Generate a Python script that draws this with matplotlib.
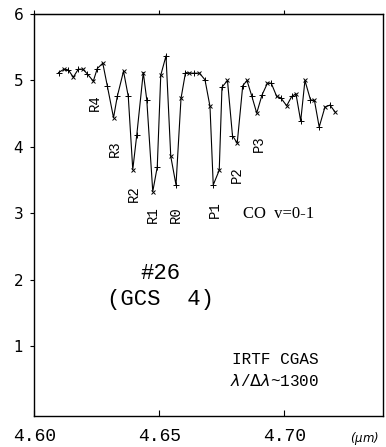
import numpy as np
import matplotlib.pyplot as plt

# 波長 (um) とフラックス
wl = [4.6097, 4.6119, 4.6136, 4.6156, 4.6176, 4.6194, 4.6212, 4.6236,
      4.6252, 4.6274, 4.6292, 4.6317, 4.6332, 4.6357, 4.6376, 4.6394,
      4.6410, 4.6436, 4.6450, 4.6474, 4.6492, 4.6506, 4.6527, 4.6546,
      4.6567, 4.6587, 4.6605, 4.6621, 4.6639, 4.6661, 4.6683, 4.6703,
      4.6716, 4.6740, 4.6751, 4.6773, 4.6793, 4.6812, 4.6834, 4.6851,
      4.6870, 4.6890, 4.6911, 4.6933, 4.6948, 4.6970, 4.6986, 4.7010,
      4.7030, 4.7047, 4.7066, 4.7083, 4.7105, 4.7121, 4.7140, 4.7163,
      4.7183, 4.7203]
flux = [5.12, 5.17, 5.16, 5.05, 5.17, 5.17, 5.10, 4.99,
        5.18, 5.26, 4.92, 4.44, 4.76, 5.14, 4.76, 3.66,
        4.18, 5.12, 4.71, 3.33, 3.70, 5.08, 5.37, 3.86,
        3.43, 4.73, 5.12, 5.11, 5.11, 5.11, 5.01, 4.61,
        3.43, 3.65, 4.90, 5.00, 4.17, 4.06, 4.92, 5.00,
        4.77, 4.51, 4.78, 4.96, 4.96, 4.76, 4.74, 4.62,
        4.76, 4.80, 4.39, 5.00, 4.71, 4.70, 4.30, 4.60,
        4.63, 4.53]

# 吸収線のラベル (名前, 波長, 高さ)
line_names = ["R4", "R3", "R2", "R1", "R0", "P1", "P2", "P3"]
line_wl = [4.6243, 4.6323, 4.6399, 4.6475, 4.6567, 4.6723, 4.6811, 4.6899]
line_y = [4.66, 3.98, 3.30, 2.98, 2.98, 3.06, 3.58, 4.05]

xticks = [4.60, 4.65, 4.70]
xticklabels = ["4.60", "4.65", "4.70"]
yticks = [1, 2, 3, 4, 5, 6]

mono = "Liberation Mono"

fig = plt.figure(figsize=(3.86, 4.47), dpi=100)
ax = fig.add_axes([0.0889, 0.0694, 0.9031, 0.8993])

wl = np.array(wl)
flux = np.array(flux)
ax.plot(wl, flux, color="black", lw=0.8, zorder=2)
ax.plot(wl[::2], flux[::2], ls="none", marker="+", ms=4.5, mew=0.7, color="black")
ax.plot(wl[1::2], flux[1::2], ls="none", marker="x", ms=3.5, mew=0.7, color="black")

for name, x, y in zip(line_names, line_wl, line_y):
    ax.text(x, y, name, rotation=90, ha="center", va="center",
            family=mono, fontsize=10)

ax.text(4.6835, 2.99, "CO  v=0-1", family="Liberation Serif", fontsize=12,
        ha="left", va="center")
ax.text(4.6505, 2.10, "#26", family=mono, fontsize=16, ha="center", va="center")
ax.text(4.6505, 1.70, "(GCS  4)", family=mono, fontsize=16, ha="center", va="center")
ax.text(4.6963, 0.81, "IRTF CGAS", family=mono, fontsize=11.5, ha="center", va="center")
ax.text(4.6963, 0.48, r"$\lambda$/$\Delta\lambda$~1300", family=mono, fontsize=11.5,
        ha="center", va="center")

ax.set_xlim(4.60, 4.7395)
ax.set_ylim(-0.045, 6.0)
ax.set_xticks(xticks)
ax.set_xticklabels(xticklabels, family=mono, fontsize=13)
ax.set_yticks(yticks)
ax.tick_params(axis="x", direction="in", length=4, pad=9)
ax.tick_params(axis="y", direction="out", length=3, pad=5, labelsize=11)
for s in ax.spines.values():
    s.set_linewidth(1.0)

top = ax.secondary_xaxis("top")
top.set_xticks(xticks)
top.set_xticklabels([])
top.tick_params(direction="out", length=3)

fig.text(0.945, 0.018, r"($\mu m$)", fontsize=8.5, style="italic",
         ha="center", va="center")

fig.savefig("out.png", dpi=100)
